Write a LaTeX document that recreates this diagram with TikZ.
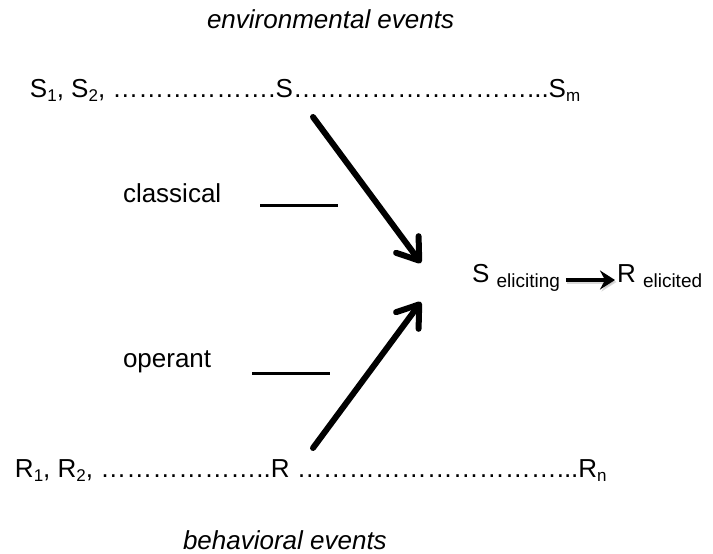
\documentclass[tikz,border=0pt]{standalone}
\usepackage{fontspec}
\setmainfont{Liberation Sans}
\usetikzlibrary{arrows.meta}
\newcommand{\sbs}[1]{\raisebox{-4.5pt}{\fontsize{17}{17}\selectfont #1}}
\newcommand{\msbs}[1]{\raisebox{-5pt}{\fontsize{19}{19}\selectfont #1}}
\newcommand{\el}{…}
\begin{document}
\begin{tikzpicture}[x=1pt,y=-1pt,
  txt/.style={inner sep=0pt, outer sep=0pt, anchor=base west, font=\fontsize{26}{30}\selectfont},
  bigarrow/.style={line width=6pt, line cap=round, -{Straight Barb[length=20pt,width=28pt,line cap=round,line join=round]}},
  bar/.style={line width=3pt},
  midarrow/.style={line width=3.5pt, -{Stealth[length=15pt,width=19pt,inset=5pt]}}]
\useasboundingbox (0,0) rectangle (713,554);
% top row
\node[txt] (env) at (207,28) {\itshape environmental events};
\node[txt] (sleft) at (30,97) {S\sbs{1}, S\sbs{2}, \el\el\el\el\el\el.};
\node[txt] (S) at (sleft.base east) {S};
\node[txt] (sright) at (S.base east) {\el\el\el\el\el\el\el\el\el...};
\node[txt] (Sm) at (sright.base east) {S\sbs{m}};
% left labels
\node[txt] (classical) at (123,202) {classical};
\node[txt] (operant) at (123,367) {operant};
\coordinate (c1) at (260,205);
\coordinate (c2) at (338,205);
\coordinate (o1) at (252,373);
\coordinate (o2) at (330,373);
\draw[bar] (c1) -- (c2);
\draw[bar] (o1) -- (o2);
% bottom row
\node[txt] (rleft) at (15,477) {R\sbs{1}, R\sbs{2}, \el\el\el\el\el\el..};
\node[txt] (R) at (rleft.base east) {R};
\node[txt] (rright) at ([xshift=7.2pt]R.base east) {\el\el\el\el\el\el\el\el\el\el...};
\node[txt] (Rn) at (rright.base east) {R\sbs{n}};
\node[txt] (beh) at (183,549) {\itshape behavioral events};
% middle
\node[txt] (Se) at (472,282) {S \msbs{eliciting}};
\node[txt] (Re) at (617,282) {R \msbs{elicited}};
\coordinate (ma) at ([xshift=6pt,yshift=2pt]Se.base east);
\coordinate (mb) at ([xshift=-2pt,yshift=2pt]Re.base west);
\draw[midarrow, black!25, opacity=0.6] ([xshift=1.5pt,yshift=-2pt]ma) -- ([xshift=1.5pt,yshift=-2pt]mb);
\draw[midarrow] (ma) -- (mb);
% big arrows
\coordinate (a1) at (313,117);
\coordinate (t1) at (421,263);
\coordinate (a2) at (313,448);
\coordinate (t2) at (421,302);
\draw[bigarrow] (a1) -- (t1);
\draw[bigarrow] (a2) -- (t2);
\end{tikzpicture}
\end{document}
